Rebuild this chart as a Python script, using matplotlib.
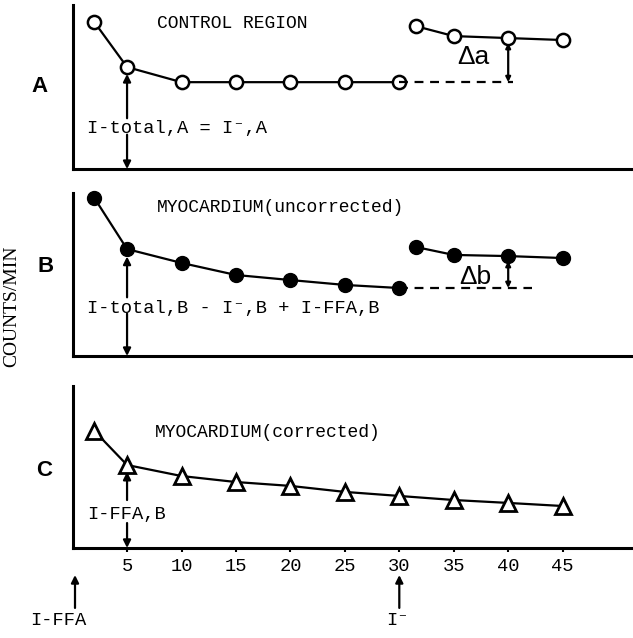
import matplotlib
matplotlib.use("Agg")
import matplotlib.pyplot as plt

# minutes after injection
t_main = [2, 5, 10, 15, 20, 25, 30]
t_late = [31.5, 35, 40, 45]
t_corr = [2, 5, 10, 15, 20, 25, 30, 35, 40, 45]

# counts/min, arbitrary units (each panel scaled 0-100)
a_main = [89.6, 62.2, 53, 53, 53, 53, 53]
a_late = [87.2, 81.1, 79.9, 78.7]
b_main = [96.9, 65.6, 57.1, 49.7, 46.6, 43.6, 41.7]
b_late = [66.9, 62.0, 61.3, 60.1]
c_vals = [72.2, 51.2, 44.4, 40.7, 38.3, 34.6, 32.1, 29.6, 27.8, 25.9]

ticks = [5, 10, 15, 20, 25, 30, 35, 40, 45]

mono = ['Liberation Mono', 'DejaVu Sans Mono']
serif = ['Liberation Serif', 'DejaVu Serif']
sans = ['Liberation Sans', 'DejaVu Sans']

fig = plt.figure(figsize=(6.33, 6.38), dpi=100)
left, width = 0.1147, 0.8853
axA = fig.add_axes([left, 0.735, width, 0.257])
axB = fig.add_axes([left, 0.442, width, 0.2555])
axC = fig.add_axes([left, 0.1411, width, 0.254])

for ax in (axA, axB, axC):
    ax.set_xlim(0, 51.46)
    ax.set_ylim(0, 100)
    ax.spines['top'].set_visible(False)
    ax.spines['right'].set_visible(False)
    ax.spines['left'].set_linewidth(2.2)
    ax.spines['bottom'].set_linewidth(2.2)
    ax.set_yticks([])

axA.set_xticks([])
axB.set_xticks([])
axC.set_xticks(ticks)
axC.set_xticklabels([str(t) for t in ticks], family=mono, fontsize=13.5)
axC.tick_params(axis='x', direction='out', length=3, width=1.5, pad=4)

def arrow(ax, x, y0, y1, clip=True):
    ax.annotate('', xy=(x, y1), xytext=(x, y0),
                arrowprops=dict(arrowstyle='-|>', color='k', lw=1.6,
                                mutation_scale=11, shrinkA=0, shrinkB=0),
                annotation_clip=clip)

# panel A
axA.plot(t_main, a_main, 'o-', color='k', lw=1.6, ms=9.5, mfc='white', mew=1.8, clip_on=False)
axA.plot(t_late, a_late, 'o-', color='k', lw=1.6, ms=9.5, mfc='white', mew=1.8, clip_on=False)
axA.plot([30, 40.4], [a_main[-1], a_main[-1]], '--', color='k', lw=1.6, dashes=(4, 3))
axA.annotate('', xy=(40, a_late[2] - 3), xytext=(40, a_main[-1]),
             arrowprops=dict(arrowstyle='<|-|>', color='k', lw=1.6, mutation_scale=7,
                             shrinkA=0, shrinkB=0))
axA.text(36.8, 68.3, 'Δa', family=sans, fontsize=19, ha='center', va='center')
axA.text(7.75, 89, 'CONTROL REGION', family=mono, fontsize=13, ha='left', va='center')
axA.text(1.3, 25, 'I-total,A = I⁻,A', family=mono, fontsize=13.5, ha='left', va='center')
arrow(axA, 5, 31, 58)
arrow(axA, 5, 21, 0)

# panel B
axB.plot(t_main, b_main, 'o-', color='k', lw=1.6, ms=10, clip_on=False)
axB.plot(t_late, b_late, 'o-', color='k', lw=1.6, ms=10, clip_on=False)
axB.plot([30, 42.2], [b_main[-1], b_main[-1]], '--', color='k', lw=1.6, dashes=(4, 3))
axB.annotate('', xy=(40, b_late[2] - 3), xytext=(40, b_main[-1]),
             arrowprops=dict(arrowstyle='<|-|>', color='k', lw=1.6, mutation_scale=7,
                             shrinkA=0, shrinkB=0))
axB.text(37.0, 48.5, 'Δb', family=sans, fontsize=19, ha='center', va='center')
axB.text(7.75, 90.8, 'MYOCARDIUM(uncorrected)', family=mono, fontsize=13, ha='left', va='center')
axB.text(1.3, 29.4, 'I-total,B - I⁻,B + I-FFA,B', family=mono, fontsize=13.5,
         ha='left', va='center')
arrow(axB, 5, 36, 61)
arrow(axB, 5, 26, 0)

# panel C
axC.plot(t_corr, c_vals, '^-', color='k', lw=1.6, ms=11, mfc='white', mew=2, clip_on=False)
axC.text(7.6, 71, 'MYOCARDIUM(corrected)', family=mono, fontsize=13, ha='left', va='center')
axC.text(1.3, 20.4, 'I-FFA,B', family=mono, fontsize=13.5, ha='left', va='center')
arrow(axC, 5, 29.6, 47)
arrow(axC, 5, 15.4, 0)

# injection markers below the time axis
arrow(axC, 0.22, -37, -16.7, clip=False)
arrow(axC, 30, -37, -16.7, clip=False)
axC.text(-1.3, -45, 'I-FFA', family=mono, fontsize=13.5, ha='center', va='center')
axC.text(29.8, -45, 'I⁻', family=mono, fontsize=13.5, ha='center', va='center')

# panel letters and y label
fig.text(40 / 633, 1 - 87 / 638, 'A', family=sans, fontsize=16, fontweight='bold',
         ha='center', va='center')
fig.text(46 / 633, 1 - 266 / 638, 'B', family=sans, fontsize=16, fontweight='bold',
         ha='center', va='center')
fig.text(44 / 633, 1 - 470 / 638, 'C', family=sans, fontsize=16, fontweight='bold',
         ha='center', va='center')
fig.text(12 / 633, 1 - 306 / 638, 'COUNTS/MIN', family=serif, fontsize=14,
         rotation=90, ha='center', va='center')

fig.savefig('out.png', dpi=100)
